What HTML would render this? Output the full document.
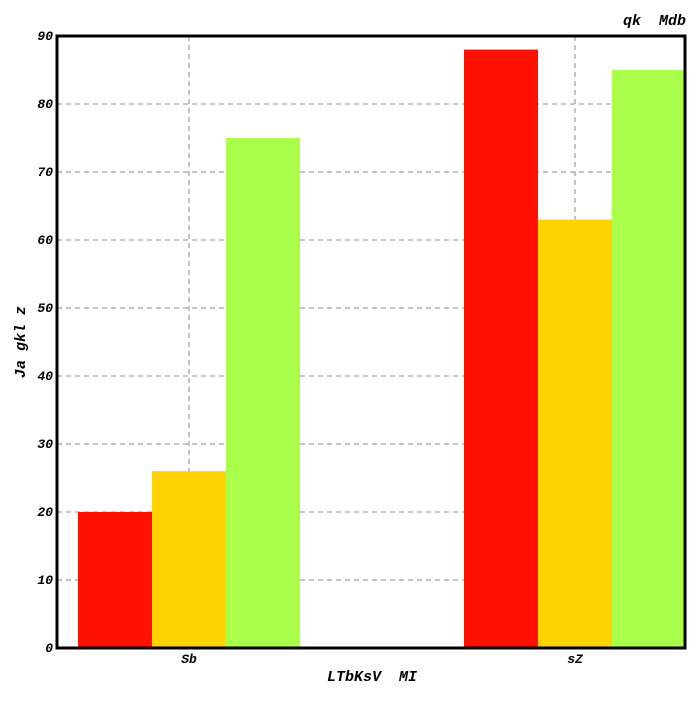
<!DOCTYPE html>
<html><head><meta charset="utf-8"><style>
body{margin:0;background:#fff;width:700px;height:700px;overflow:hidden}
text{font-family:"Liberation Mono",monospace;font-style:italic;white-space:pre}
</style></head><body>
<svg id="chart" width="700" height="700">
<text x="686" y="25" text-anchor="end" font-size="15" font-weight="bold" xml:space="preserve">qk  Mdb</text>
<g id="grid"></g>
<g id="bars"></g>
<g id="axes"></g>
<text x="372" y="681" text-anchor="middle" font-size="15" font-weight="bold" xml:space="preserve">LTbKsV  MI</text>
<text transform="translate(25,342) rotate(-90)" text-anchor="middle" font-size="15" font-weight="bold" xml:space="preserve">Ja gkl z</text>
</svg>
<script>
const categories=["Sb","sZ"];
const seriesRed=[20,88];
const seriesYellow=[26,63];
const seriesGreen=[75,85];
const yTicks=[0,10,20,30,40,50,60,70,80,90];
const NS="http://www.w3.org/2000/svg";
const L=57,R=685,T=36,B=648,yMax=90;
const y=v=>B-(v/yMax)*(B-T);
const catStart=78,catStep=386;
const xc=i=>catStart+111+i*catStep;
const barW=74;
function mk(tag,attrs,parent){const e=document.createElementNS(NS,tag);for(const k in attrs)e.setAttribute(k,attrs[k]);parent.appendChild(e);return e;}
const grid=document.getElementById('grid'),bars=document.getElementById('bars'),axes=document.getElementById('axes');
yTicks.forEach(t=>{
  if(t>0&&t<yMax){const g=mk('line',{x1:L,x2:R,y1:y(t),y2:y(t),stroke:'#b0b0b0','stroke-width':1.5,'stroke-dasharray':'5,4'},grid);
  
  }
  const lb=mk('text',{x:L-4,y:y(t)+4,'text-anchor':'end','font-size':13,'font-weight':'bold'},axes);
  lb.textContent=t;
  
  
});
categories.forEach((c,i)=>{
  const g=mk('line',{x1:xc(i),x2:xc(i),y1:T,y2:B,stroke:'#b0b0b0','stroke-width':1.5,'stroke-dasharray':'5,4'},grid);
  
  
  const lb=mk('text',{x:xc(i),y:B+15,'text-anchor':'middle','font-size':13,'font-weight':'bold'},axes);
  lb.textContent=c;
  
  
});
const series=[[seriesRed,'#ff1100'],[seriesYellow,'#ffd200'],[seriesGreen,'#aaff4c']];
series.forEach(([vals,col],s)=>{
  vals.forEach((v,i)=>{
    const x0=xc(i)-111+s*barW;
    const w=Math.min(barW,R-x0);
    const r=mk('rect',{x:x0,y:y(v),width:w,height:B-y(v),fill:col},bars);
    
    
  });
});
const frame=mk('rect',{x:L,y:T,width:R-L,height:B-T,fill:'none',stroke:'#000','stroke-width':3},axes);


</script>
</body></html>
